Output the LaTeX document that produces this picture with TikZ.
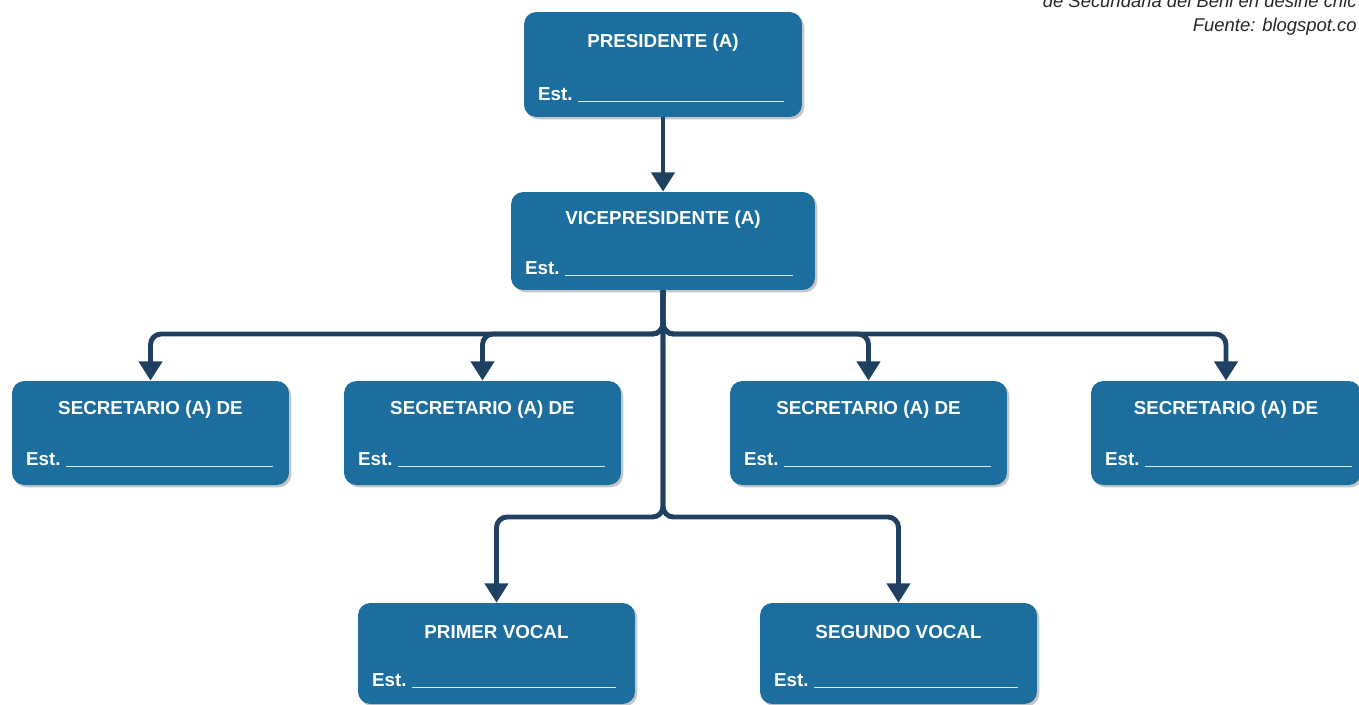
\documentclass[tikz,border=0pt]{standalone}
\usepackage{fontspec}
\setmainfont{Liberation Sans}
\usetikzlibrary{arrows.meta,positioning,calc,shadows}
\definecolor{cajaazul}{HTML}{1B6E9E}
\definecolor{lineaazul}{HTML}{1F4060}
\definecolor{raya}{HTML}{D2EAF6}

\begin{document}
\begin{tikzpicture}[x=0.02cm,y=-0.02cm,
  caja/.style={fill=cajaazul,rounded corners=7pt,inner sep=0pt,minimum width=5.54cm,minimum height=2.08cm,
    drop shadow={shadow xshift=1.3pt,shadow yshift=-1.3pt,fill=black,opacity=0.22}},
  titulo/.style={text=white,inner sep=0pt,font=\bfseries\fontsize{10.7}{12}\selectfont},
  est/.style={text=white,inner sep=0pt,anchor=base west,font=\bfseries\fontsize{10.7}{12}\selectfont},
  flecha/.style={lineaazul,line width=2.8pt,rounded corners=6pt,-{Triangle[width=13pt,length=11pt]}},
  fuente/.style={anchor=base east,inner sep=0pt,text=black!85,font=\itshape\fontsize{10.5}{12}\selectfont}]
  \useasboundingbox (0,0) rectangle (1359,704);

  % source note
  \node[fuente] (cita) at (1357,7) {de Secundaria del Beni en desine chic};
  \node[fuente] (fuente) at (1357,31) {Fuente: blogspot.co};

  % boxes
  \node[caja,minimum width=5.56cm,minimum height=2.1cm] (pres) at (663,64.5) {};
  \node[caja,minimum width=6.08cm,minimum height=1.96cm] (vice) at (663,241) {};
  \node[caja] (sec1) at (150.5,433) {};
  \node[caja] (sec2) at (482.5,433) {};
  \node[caja] (sec3) at (868.5,433) {};
  \node[caja,minimum width=5.4cm] (sec4) at (1226,433) {};
  \node[caja,minimum height=2.02cm] (voc1) at (496.5,653.5) {};
  \node[caja,minimum height=2.02cm] (voc2) at (898.5,653.5) {};

  % labels
  \node[titulo] at ($(pres.north)+(0,31)$) {PRESIDENTE (A)};
  \node[est] at ($(pres.south west)+(14,-17)$) {Est.\ \textcolor{raya}{\rule[-1pt]{4.12cm}{0.8pt}}};
  \node[titulo] at ($(vice.north)+(0,28)$) {VICEPRESIDENTE (A)};
  \node[est] at ($(vice.south west)+(14,-16)$) {Est.\ \textcolor{raya}{\rule[-1pt]{4.56cm}{0.8pt}}};
  \foreach \s in {sec1,sec2,sec3,sec4} {
    \node[titulo] at ($(\s.north)+(0,29)$) {SECRETARIO (A) DE};
    \node[est] at ($(\s.south west)+(14,-20)$) {Est.\ \textcolor{raya}{\rule[-1pt]{4.14cm}{0.8pt}}};
  }
  \node[titulo] at ($(voc1.north)+(0,29)$) {PRIMER VOCAL};
  \node[est] at ($(voc1.south west)+(14,-18)$) {Est.\ \textcolor{raya}{\rule[-1pt]{4.08cm}{0.8pt}}};
  \node[titulo] at ($(voc2.north)+(0,29)$) {SEGUNDO VOCAL};
  \node[est] at ($(voc2.south west)+(14,-18)$) {Est.\ \textcolor{raya}{\rule[-1pt]{4.08cm}{0.8pt}}};

  % connectors
  \coordinate (nudo1) at (663,334);
  \coordinate (nudo2) at (663,517);
  \draw[flecha] (pres.south) -- (vice.north);
  \foreach \s in {sec1,sec2,sec3,sec4}
    \draw[flecha] (vice.south) -- (nudo1) -| (\s.north);
  \foreach \s in {voc1,voc2}
    \draw[flecha] (vice.south) -- (nudo2) -| (\s.north);
\end{tikzpicture}
\end{document}
